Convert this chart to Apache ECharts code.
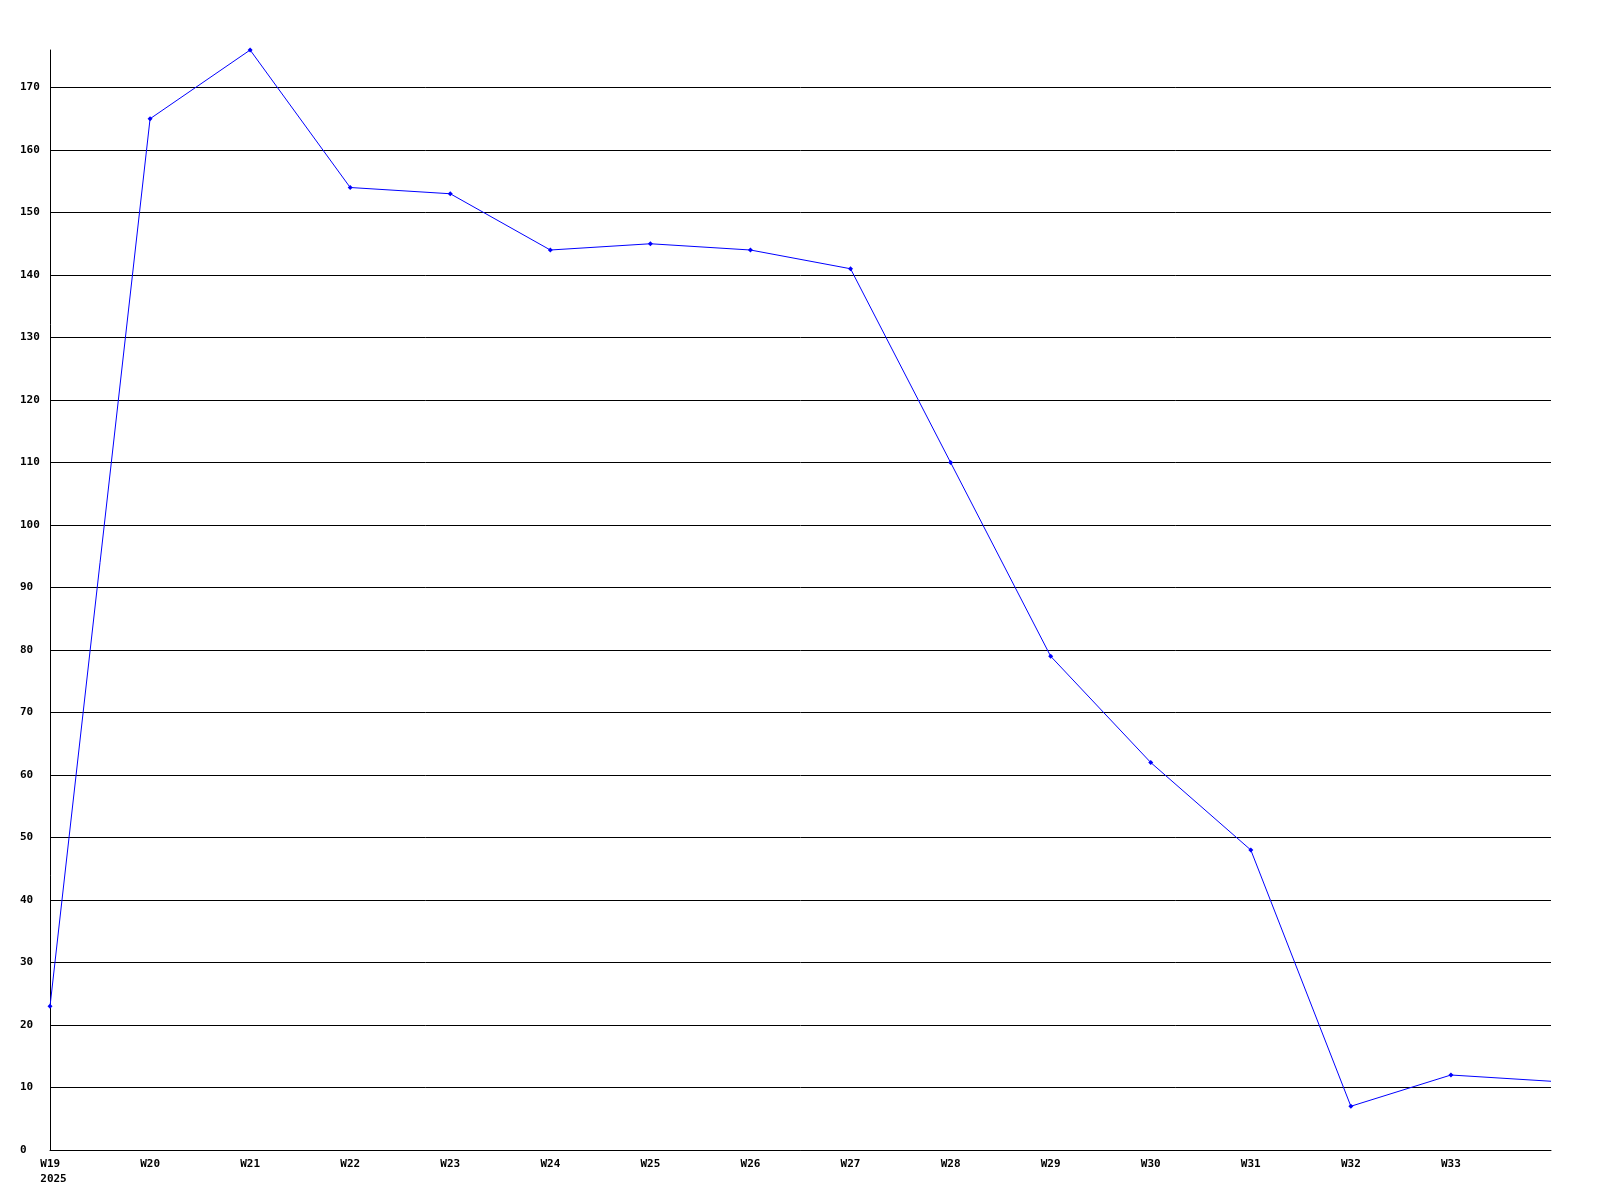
<!DOCTYPE html>
<html>
<head>
<meta charset="utf-8">
<script src="https://cdn.jsdelivr.net/npm/echarts@6/dist/echarts.min.js"></script>
<style>html,body{margin:0;padding:0;background:#fff}#c{width:1600px;height:1200px}</style>
</head>
<body>
<div id="c"></div>
<script>
const weeks = ['W19','W20','W21','W22','W23','W24','W25','W26','W27','W28','W29','W30','W31','W32','W33','W34'];
const values = [23,165,176,154,153,144,145,144,141,110,79,62,48,7,12,11];
const yearLabel = '2025';

const font = {fontFamily: '"DejaVu Sans Mono", monospace', fontWeight: 'bold', fontSize: 11, color: '#000'};
const lastIdx = values.length - 1;
const seriesData = values.map(function (v, i) {
  return i === lastIdx ? {value: v, symbol: 'none'} : v;
});
const chart = echarts.init(document.getElementById('c'));
chart.setOption({
  animation: false,
  backgroundColor: '#fff',
  grid: {left: 50, right: 49, top: 50, bottom: 50, containLabel: false},
  xAxis: {
    type: 'category',
    data: weeks,
    boundaryGap: false,
    axisLine: {show: true, lineStyle: {color: '#000', width: 1}},
    axisTick: {show: false},
    splitLine: {show: false},
    axisLabel: Object.assign({}, font, {
      margin: 7,
      interval: 0,
      lineHeight: 15,
      formatter: function (v, i) {
        if (i === lastIdx) return '';
        return i === 0 ? '{a|' + v + '}\n{a|' + yearLabel + '}' : v;
      },
      rich: {a: Object.assign({}, font, {align: 'left', lineHeight: 15, padding: [0, 0, 0, 7]})}
    })
  },
  yAxis: {
    type: 'value',
    min: 0,
    max: 176,
    interval: 10,
    axisLine: {show: true, lineStyle: {color: '#000', width: 1}},
    axisTick: {show: false},
    splitLine: {show: true, showMaxLine: false, lineStyle: {color: '#000', width: 1}},
    axisLabel: Object.assign({}, font, {
      align: 'left',
      margin: 30,
      showMaxLabel: false
    })
  },
  series: [{
    type: 'line',
    data: seriesData,
    symbol: 'diamond',
    symbolSize: 5,
    showSymbol: true,
    lineStyle: {color: '#0000ff', width: 1},
    itemStyle: {color: '#0000ff'}
  }]
});
</script>
</body>
</html>
